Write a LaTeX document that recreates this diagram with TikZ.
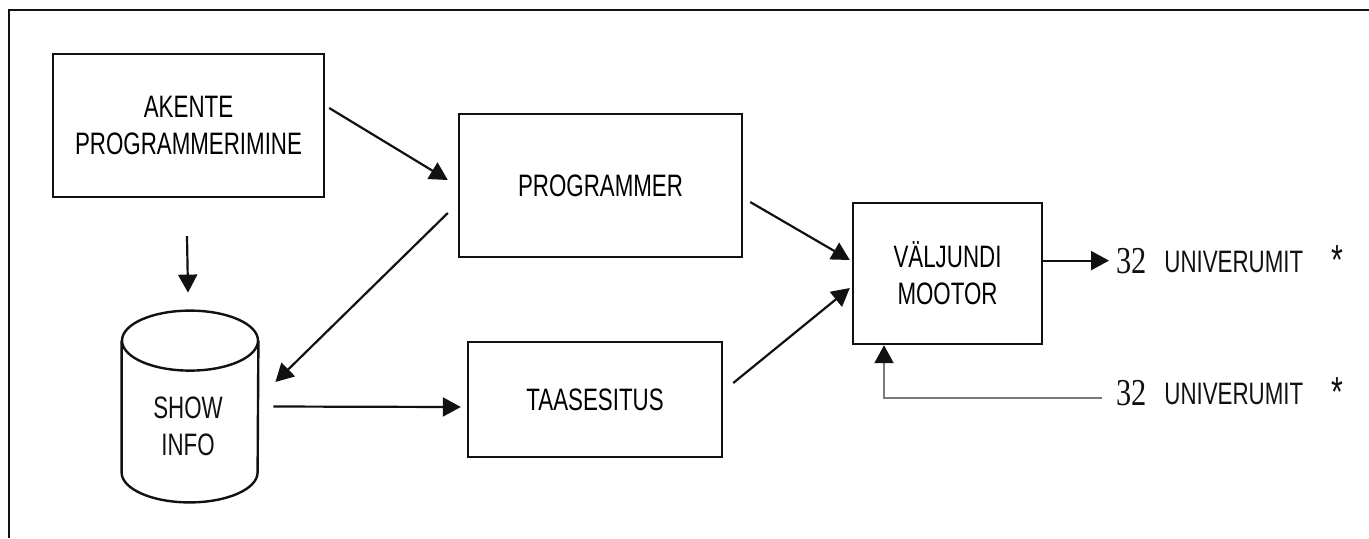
\documentclass[tikz,border=0pt]{standalone}
\usepackage{fontspec}
\usetikzlibrary{arrows.meta,calc,positioning}
\newfontfamily\lblfont[FakeStretch=0.72]{Liberation Sans}
\newfontfamily\numfont[FakeStretch=0.8]{Liberation Serif}
\definecolor{Ink}{HTML}{111111}
\definecolor{Wire}{HTML}{7A7A7A}
\tikzset{
  blk/.style={draw=Ink, line width=1.2pt, align=center, inner sep=0pt,
    font=\lblfont\fontsize{15.5}{18.5}\selectfont},
  lbl/.style={inner sep=0pt, text=Ink, font=\lblfont\fontsize{15.5}{18.5}\selectfont},
  num/.style={inner sep=0pt, text=Ink, font=\numfont\fontsize{19}{22}\selectfont},
  arr/.style={-{Triangle[length=9pt,width=9.5pt]}, line width=1.1pt, draw=Ink},
}

\begin{document}
\begin{tikzpicture}[x=0.5pt, y=0.5pt]
    \useasboundingbox (0,0) rectangle (1369,-538);
    % frame (only top and left edge show)
    \draw[line width=1.2pt, draw=Ink] (9,-538) -- (9,-10) -- (1369,-10);

    \node[blk, minimum width=135.5pt, minimum height=71.5pt] (akente) at (188.5,-125.5) {AKENTE\\PROGRAMMERIMINE};
    \node[blk, minimum width=141.5pt, minimum height=71.5pt] (prog) at (600.5,-185.5) {PROGRAMMER};
    \node[blk, minimum width=127pt, minimum height=57.5pt] (taas) at (595,-399.5) {TAASESITUS};
    \node[blk, minimum width=94.5pt, minimum height=70.5pt] (valj) at (947.5,-273.5) {VÄLJUNDI\\MOOTOR};

    % database cylinder
    \node[minimum width=68pt, minimum height=95.5pt, inner sep=0pt] (shw) at (190,-406.5) {};
    \draw[line width=1.2pt, draw=Ink] ([yshift=-15pt]shw.north west) -- ([yshift=15pt]shw.south west)
      arc[start angle=180, end angle=360, x radius=68, y radius=30] -- ([yshift=-15pt]shw.north east);
    \draw[line width=1.2pt, draw=Ink] ([yshift=-15pt]shw.north) ellipse[x radius=68, y radius=30];
    \node[lbl, align=center] (shwtext) at ([shift={(-2,-20)}]shw.center) {SHOW\\INFO};

    % universe labels
    \node[num, anchor=base west] (numa) at (1116,-273) {32};
    \node[lbl, anchor=base west] (univa) at (1164,-272) {UNIVERUMIT};
    \node[lbl, anchor=base west, font=\lblfont\fontsize{21}{22}\selectfont] (stara) at (1331,-274) {*};
    \node[num, anchor=base west] (numb) at (1116,-405) {32};
    \node[lbl, anchor=base west] (univb) at (1164,-404) {UNIVERUMIT};
    \node[lbl, anchor=base west, font=\lblfont\fontsize{21}{22}\selectfont] (starb) at (1331,-406) {*};

    \draw[arr] ([shift={(4,17.5)}]akente.east) -- ([shift={(-10,5.5)}]prog.west);
    \draw[arr] ([shift={(-1.5,-38)}]akente.south) -- ([shift={(-2,18)}]shw.north);
    \draw[arr] ([shift={(-10,-27.5)}]prog.west) -- ([shift={(17,24.5)}]shw.east);
    \draw[arr] ([shift={(15,0)}]shw.east) -- ([shift={(-6,-7.5)}]taas.west);
    \draw[arr] ([shift={(7,-16.5)}]prog.east) -- ([shift={(-2,13.5)}]valj.west);
    \draw[arr] ([shift={(10,16.5)}]taas.east) -- ([shift={(-2,-14.5)}]valj.west);
    \draw[arr] (valj.east |- numa.west) -- ([xshift=-3.5pt]numa.west);
    \draw[arr, draw=Wire, -{Triangle[length=9pt,width=9.5pt,color=Ink]}]
      ([shift={(-14,-5)}]numb.west) -| ([xshift=-31.75pt]valj.south);
\end{tikzpicture}
\end{document}
